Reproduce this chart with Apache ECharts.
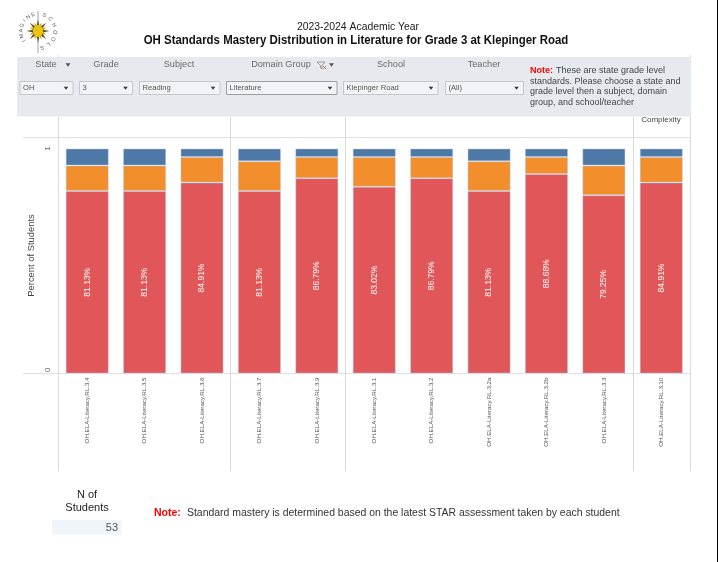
<!DOCTYPE html>
<html>
<head>
<meta charset="utf-8">
<style>html,body{margin:0;padding:0;background:#fff}#c{width:718px;height:562px}</style>
<script src="https://cdn.jsdelivr.net/npm/echarts@6/dist/echarts.min.js"></script>
</head>
<body>
<div id="c"></div>
<script>
const categories = ['OH.ELA-Literacy.RL.3.4','OH.ELA-Literacy.RL.3.5','OH.ELA-Literacy.RL.3.6','OH.ELA-Literacy.RL.3.7','OH.ELA-Literacy.RL.3.9','OH.ELA-Literacy.RL.3.1','OH.ELA-Literacy.RL.3.2','OH.ELA-Literacy.RL.3.2a','OH.ELA-Literacy.RL.3.2b','OH.ELA-Literacy.RL.3.3','OH.ELA-Literacy.RL.3.10'];
const redValues    = [0.8113,0.8113,0.8491,0.8113,0.8679,0.8302,0.8679,0.8113,0.8868,0.7925,0.8491];
const orangeValues = [0.1132,0.1132,0.1132,0.1321,0.0943,0.1321,0.0943,0.1321,0.0755,0.1321,0.1132];
const blueValues   = [0.0755,0.0755,0.0377,0.0566,0.0378,0.0377,0.0378,0.0566,0.0377,0.0754,0.0377];
const yTickValues = [0,1];
const filterLabels = ['State','Grade','Subject','Domain Group','School','Teacher'];
const filterValues = ['OH','3','Reading','Literature','Klepinger Road','(All)'];
const noteTop = ['These are state grade level','standards. Please choose a state and','grade level then a subject, domain','group, and school/teacher'];

const FONT = '"Liberation Sans", Arial, sans-serif';
const G = [];
function txt(x,y,text,size,fill,opts){
  opts = opts||{};
  G.push({type:'text',x:x,y:y,rotation:opts.rotation||0,scaleX:opts.scaleX||1,z:opts.z||20,style:{text:text,font:(opts.bold?'bold ':'')+size+'px '+FONT,fill:fill,textAlign:opts.align||'left',textVerticalAlign:'middle'}});
}
function rect(x,y,w,h,fill,stroke,z){
  G.push({type:'rect',z:z||10,shape:{x:x,y:y,width:w,height:h},style:{fill:fill,stroke:stroke||null,lineWidth:stroke?1:0}});
}
function line(x1,y1,x2,y2,c,w,z){
  G.push({type:'line',z:z||1,shape:{x1:x1,y1:y1,x2:x2,y2:y2},style:{stroke:c,lineWidth:w||1}});
}
function tri(cx,cy,w,h,c){
  G.push({type:'polygon',z:21,shape:{points:[[cx-w/2,cy-h/2],[cx+w/2,cy-h/2],[cx,cy+h/2]]},style:{fill:c}});
}

txt(356,40,'OH Standards Mastery Distribution in Literature for Grade 3 at Klepinger Road',13,'#111',{bold:true,align:'center',scaleX:0.88});

// panel structure lines
[58.5,230.5,345.5,633.5,690.5].forEach(x=>line(x,x===690.5||x===58.5?55:117,x,471,'#d9d9d9',1,1));
line(23,137.5,690.5,137.5,'#e0e0e0',1,1);
line(23,373.5,58,373.5,'#e0e0e0',1,1);

// filter band
rect(17,57,674,59.5,'#e6eaee');
const hx=[46,106,179,281,391,484];
filterLabels.forEach((t,i)=>txt(hx[i],64.5,t,9.2,'#6a6a6a',{align:'center'}));
tri(68,65,5,3.5,'#555'); tri(331.5,65,5,3.5,'#555');
// funnel icon
G.push({type:'polyline',z:21,shape:{points:[[317,62],[325,62],[322,65.5],[322,69],[320.5,68],[320.5,65.5],[317,62]]},style:{stroke:'#888',fill:null,lineWidth:.8}});
line(323,66,326,69,'#e05050',.8,21); line(326,66,323,69,'#e05050',.8,21);
const box=[[20,53],[79.5,53],[139.5,80.5],[226.5,110.5],[343.5,94.5],[445.5,78]];
filterValues.forEach((t,i)=>{
  const b=box[i], y=81.5;
  rect(b[0],y,b[1],13,'#f1f4f6',i===3?'#9a9fa3':'#c4c8cc',15);
  txt(b[0]+3,y+6.5,t,7.6,'#555',{});
  tri(b[0]+b[1]-7,y+6.8,4.5,3,'#333');
});
// note
txt(530,71,'Note:',9,'#ff0000',{bold:true});
txt(556,71,noteTop[0],9,'#444');
noteTop.slice(1).forEach((t,i)=>txt(530,81.5+i*10.4,t,9,'#444'));
txt(661,119.5,'Complexity',8,'#444',{align:'center',z:5});

// bottom
txt(87,495,'N of',11,'#222',{align:'center'});
txt(87,507.5,'Students',11,'#222',{align:'center'});
rect(52,520,69.5,14.5,'#eff5f9');
txt(118,527.5,'53',11,'#555',{align:'right'});
txt(154,513,'Note:',10.5,'#ff0000',{bold:true});
txt(187,513,'Standard mastery is determined based on the latest STAR assessment taken by each student',10.45,'#333');

// logo
const lx=38,ly=31;
line(lx,11,lx,53,'#8a8a8a',.8,21);
for(let i=0;i<16;i++){
  const a=i*Math.PI/8, r=i%2?9:11.5, w=.35;
  G.push({type:'polygon',z:22,shape:{points:[[lx+4.5*Math.cos(a-w),ly+4.5*Math.sin(a-w)],[lx+r*Math.cos(a),ly+r*Math.sin(a)],[lx+4.5*Math.cos(a+w),ly+4.5*Math.sin(a+w)]]},style:{fill:i%2?'#c8a010':'#5a5020'}});
}
G.push({type:'ellipse',z:23,shape:{cx:lx,cy:ly,rx:5,ry:6},style:{fill:'#eac30e'}});
function arc(word,start,step){
  word.split('').forEach((ch,i)=>{
    const d=(start+i*step)*Math.PI/180, R=17;
    G.push({type:'text',z:22,x:lx+R*Math.sin(d),y:ly-R*Math.cos(d),rotation:-d,style:{text:ch,font:'5.5px '+FONT,fill:'#555',textAlign:'center',textVerticalAlign:'middle'}});
  });
}
arc('IMAGINE',-125,18);
arc('SCHOOLS',22,24);
// right-hand window edge
rect(717,0,1,562,'#000',null,30);

const mk=(name,data,color,label)=>({
  name:name,type:'bar',stack:'m',data:data,barWidth:'75%',
  itemStyle:{color:color,borderColor:'rgba(180,195,225,0.45)',borderWidth:1},
  label:label?{show:true,position:'inside',rotate:90,color:'#fff',fontSize:8.5,fontFamily:FONT,
    formatter:p=>(p.value*100).toFixed(2)+'%'}:{show:false}
});

const chart=echarts.init(document.getElementById('c'),null,{renderer:'canvas'});
chart.setOption({
  animation:false,
  backgroundColor:'#fff',
  title:{text:'2023-2024 Academic Year',left:353,top:17,textAlign:'center',
    textStyle:{fontFamily:FONT,fontSize:10.4,fontWeight:'normal',color:'#222'}},
  grid:{left:58.5,right:28,top:137.5,bottom:188.5,containLabel:false},
  xAxis:{type:'category',data:categories,
    axisLine:{lineStyle:{color:'#e0e0e0'}},
    axisTick:{show:true,length:3,lineStyle:{color:'#f0f0f0'}},
    axisLabel:{rotate:90,interval:0,margin:4,fontSize:6.2,color:'#555',fontFamily:FONT}},
  yAxis:{type:'value',min:0,max:1.049,name:'Percent of Students',nameLocation:'middle',nameGap:19,
    nameRotate:90,nameTextStyle:{fontFamily:FONT,fontSize:9.4,color:'#444'},
    axisLine:{show:false},axisTick:{show:false},
    splitLine:{show:false},
    axisLabel:{customValues:yTickValues,rotate:90,margin:7,fontSize:8,color:'#666',fontFamily:FONT,
      formatter:v=>v===0?'{z|0}':'1',rich:{z:{padding:[0,0,0,7],fontSize:8,color:'#666'}}}},
  series:[mk('Mastered',redValues,'#E15759',true),mk('Near',orangeValues,'#F28E2B'),mk('Below',blueValues,'#4E79A7')],
  graphic:G
});
</script>
</body>
</html>
